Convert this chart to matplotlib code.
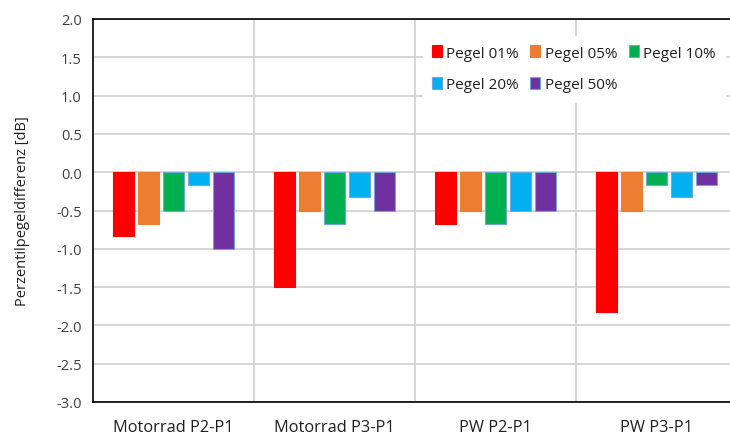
import matplotlib.pyplot as plt
from matplotlib.patches import Patch
import numpy as np

plt.rcParams['font.family'] = ['Open Sans', 'DejaVu Sans']

categories = ['Motorrad P2-P1', 'Motorrad P3-P1', 'PW P2-P1', 'PW P3-P1']
series_names = ['Pegel 01%', 'Pegel 05%', 'Pegel 10%', 'Pegel 20%', 'Pegel 50%']
pegel_01 = [-0.83, -1.50, -0.67, -1.83]
pegel_05 = [-0.67, -0.50, -0.50, -0.50]
pegel_10 = [-0.50, -0.67, -0.67, -0.17]
pegel_20 = [-0.17, -0.33, -0.50, -0.33]
pegel_50 = [-1.00, -0.50, -0.50, -0.17]
yticks = [2.0, 1.5, 1.0, 0.5, 0.0, -0.5, -1.0, -1.5, -2.0, -2.5, -3.0]

series = [pegel_01, pegel_05, pegel_10, pegel_20, pegel_50]
colors = ['#FF0000', '#ED7D31', '#00B050', '#00B0F0', '#7030A0']
edges = ['#FF0000', '#ED7D31', '#6FA8DC', '#6FA8DC', '#6FA8DC']

fig = plt.figure(figsize=(7.3, 4.35), dpi=100)
ax = fig.add_axes([93 / 730, 32 / 435, 644 / 730, 383 / 435])

x = np.arange(len(categories))
step = 0.155
width = 0.13
for i, (vals, c, e) in enumerate(zip(series, colors, edges)):
    ax.bar(x + (i - 2) * step, vals, width, color=c, edgecolor=e, linewidth=0.8,
           label=series_names[i], zorder=3)

ax.set_xlim(-0.5, len(categories) - 0.5)
ax.set_ylim(-3.0, 2.0)
ax.set_yticks(yticks)
ax.set_yticklabels(['%.1f' % v for v in yticks], fontsize=10.5, color='#404040')
ax.set_xticks(x)
ax.set_xticklabels(categories, fontsize=11.8, color='#202020')
ax.tick_params(axis='x', length=0, pad=12)
ax.tick_params(axis='y', length=0, pad=8)

ax.grid(axis='y', color='#D0D0D0', linewidth=1.2, zorder=0)
for sep in x[:-1] + 0.5:
    ax.axvline(sep, color='#D0D0D0', linewidth=1.2, zorder=0)

for s in ['left', 'top', 'bottom']:
    ax.spines[s].set_color('black')
    ax.spines[s].set_linewidth(1.2)
ax.spines['right'].set_visible(False)

ax.set_ylabel('Perzentilpegeldifferenz [dB]', fontsize=10.5, color='#202020', labelpad=19)

# row-wise order for the 3-column legend
order = [0, 3, 1, 4, 2]
handles = [Patch(facecolor=colors[i], edgecolor=edges[i], linewidth=0.8) for i in order]
labels = [series_names[i] for i in order]
leg = ax.legend(handles, labels, ncol=3, loc='upper left',
                bbox_to_anchor=(0.5, 0.975), fontsize=11, frameon=True,
                fancybox=False, framealpha=1, edgecolor='white',
                handlelength=0.65, handleheight=0.8, handletextpad=0.3,
                columnspacing=0.75, labelspacing=1.1, borderpad=0.6)
leg.set_zorder(5)
for t in leg.get_texts():
    t.set_color('#202020')

fig.savefig('out.png', dpi=100)
